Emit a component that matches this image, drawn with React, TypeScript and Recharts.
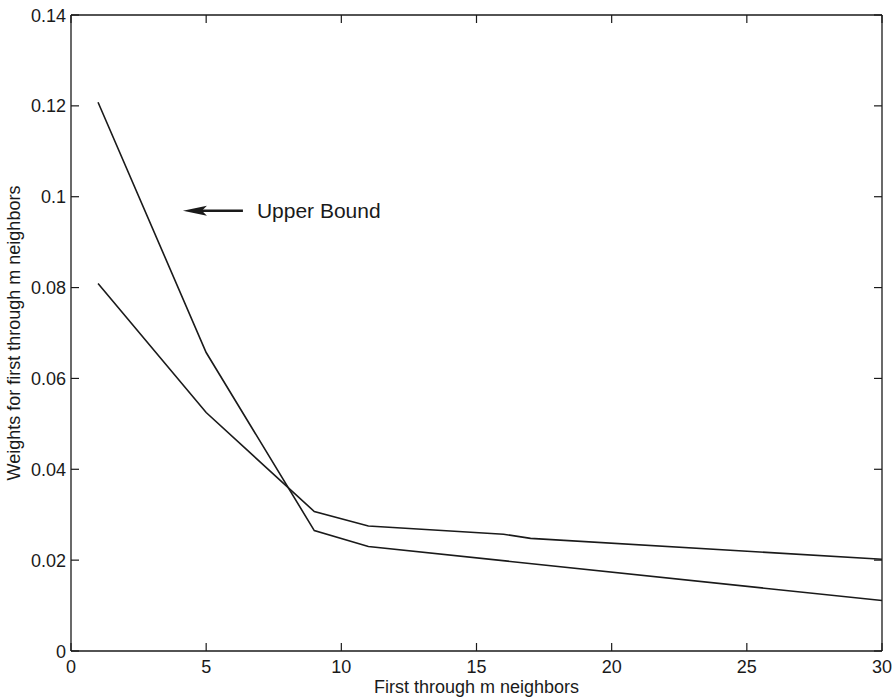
import React from 'react';
import { LineChart, Line, XAxis, YAxis, ReferenceLine, ReferenceDot } from 'recharts';

// ---- data ----
const upperX = [1, 5, 9, 11, 30];
const upperY = [0.1208, 0.0657, 0.0265, 0.0230, 0.0111];
const lowerX = [1, 5, 9, 11, 16, 17, 30];
const lowerY = [0.0809, 0.0525, 0.0307, 0.0275, 0.0257, 0.0248, 0.0202];
const xTicks = [0, 5, 10, 15, 20, 25, 30];
const yTicks = [0, 0.02, 0.04, 0.06, 0.08, 0.1, 0.12, 0.14];
const yTickLabels = ['0', '0.02', '0.04', '0.06', '0.08', '0.1', '0.12', '0.14'];
const annotationText = 'Upper Bound';
const annotationPoint = { x: 4.14, y: 0.0969 };
const xLabel = 'First through m neighbors';
const yLabel = 'Weights for first through m neighbors';

const upperData = upperX.map((x, i) => ({ x, y: upperY[i] }));
const lowerData = lowerX.map((x, i) => ({ x, y: lowerY[i] }));

// ---- layout ----
const WIDTH = 896;
const HEIGHT = 700;
const MARGIN = { top: 15, right: 14, bottom: 0, left: 0 };
const Y_AXIS_W = 71;
const X_AXIS_H = 49;
const PLOT_TOP = MARGIN.top;
const PLOT_RIGHT = WIDTH - MARGIN.right;
const FONT = '"Liberation Sans", Arial, Helvetica, sans-serif';
const INK = '#1a1a1a';
const TICK_LEN = 8;

const YTick = (props: any) => {
  const { x, y, payload } = props;
  const idx = yTicks.indexOf(payload.value);
  const label = idx >= 0 ? yTickLabels[idx] : String(payload.value);
  return (
    <g>
      <line x1={x} x2={x + TICK_LEN} y1={y} y2={y} stroke={INK} strokeWidth={1.2} />
      <line x1={PLOT_RIGHT - TICK_LEN} x2={PLOT_RIGHT} y1={y} y2={y} stroke={INK} strokeWidth={1.2} />
      <text x={x - 5} y={y + 6.5} textAnchor="end" fontSize={18} fontFamily={FONT} fill={INK}>
        {label}
      </text>
    </g>
  );
};

const XTick = (props: any) => {
  const { x, y, payload } = props;
  return (
    <g>
      <line x1={x} x2={x} y1={y} y2={y - TICK_LEN} stroke={INK} strokeWidth={1.2} />
      <line x1={x} x2={x} y1={PLOT_TOP} y2={PLOT_TOP + TICK_LEN} stroke={INK} strokeWidth={1.2} />
      <text x={x} y={y + 22} textAnchor="middle" fontSize={18} fontFamily={FONT} fill={INK}>
        {String(payload.value)}
      </text>
    </g>
  );
};

const ArrowNote = (props: any) => {
  const { cx, cy } = props;
  return (
    <g>
      <line x1={cx + 14} x2={cx + 60} y1={cy} y2={cy} stroke={INK} strokeWidth={2.4} />
      <polygon
        points={`${cx},${cy} ${cx + 24},${cy - 5} ${cx + 19},${cy} ${cx + 24},${cy + 5}`}
        fill={INK}
      />
      <text x={cx + 74} y={cy + 7.5} fontSize={21} fontFamily={FONT} fill={INK}>
        {annotationText}
      </text>
    </g>
  );
};

export default function App() {
  return (
    <div style={{ position: 'absolute', left: 0, top: 0, width: WIDTH, height: HEIGHT, background: '#fff' }}>
      <LineChart width={WIDTH} height={HEIGHT} margin={MARGIN}>
        <XAxis
          dataKey="x"
          type="number"
          domain={[0, 30]}
          ticks={xTicks}
          allowDataOverflow
          height={X_AXIS_H}
          tickSize={0}
          tickMargin={0}
          tickLine={false}
          axisLine={{ stroke: INK, strokeWidth: 1.3 }}
          tick={<XTick />}
          label={{
            value: xLabel,
            position: 'insideBottom',
            offset: 7,
            fontSize: 18,
            fontFamily: FONT,
            fill: INK,
          }}
        />
        <YAxis
          type="number"
          domain={[0, 0.14]}
          ticks={yTicks}
          allowDataOverflow
          width={Y_AXIS_W}
          tickSize={0}
          tickMargin={0}
          tickLine={false}
          axisLine={{ stroke: INK, strokeWidth: 1.3 }}
          tick={<YTick />}
          label={{
            value: yLabel,
            angle: -90,
            position: 'insideLeft',
            offset: 14,
            fontSize: 18,
            fontFamily: FONT,
            fill: INK,
            style: { textAnchor: 'middle' },
          }}
        />
        <ReferenceLine y={0.14} stroke={INK} strokeWidth={1.3} ifOverflow="extendDomain" />
        <ReferenceLine x={30} stroke={INK} strokeWidth={1.3} ifOverflow="extendDomain" />
        <Line
          data={upperData}
          dataKey="y"
          type="linear"
          stroke={INK}
          strokeWidth={1.6}
          dot={false}
          isAnimationActive={false}
        />
        <Line
          data={lowerData}
          dataKey="y"
          type="linear"
          stroke={INK}
          strokeWidth={1.6}
          dot={false}
          isAnimationActive={false}
        />
        <ReferenceDot
          x={annotationPoint.x}
          y={annotationPoint.y}
          r={0}
          shape={<ArrowNote />}
          ifOverflow="visible"
        />
      </LineChart>
    </div>
  );
}
